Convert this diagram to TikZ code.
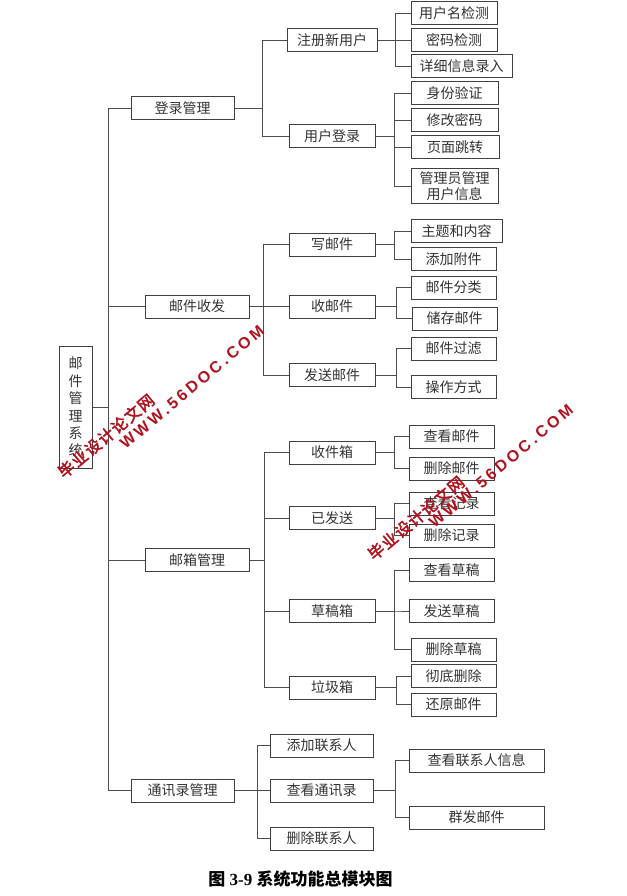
\documentclass[tikz,border=0pt]{standalone}
\usepackage{fontspec}
\setmainfont{Liberation Serif}
\newfontfamily\cjk{Noto Sans CJK SC}
\newfontfamily\wmlat{Liberation Sans Bold}[LetterSpace=20]
\newfontfamily\wmcjk{Noto Sans CJK SC}[LetterSpace=8, FakeBold=2.5]
\definecolor{wm}{RGB}{175,18,28}
\begin{document}
\begin{tikzpicture}[x=1pt,y=-1pt,
  bx/.style={draw=black!75, line width=1pt, fill=white, inner sep=0pt,
    minimum height=23pt, minimum width=86pt, align=center,
    font={\cjk\fontsize{14}{16.5}\selectfont}, text=black!80},
  ln/.style={draw=black!70, line width=0.9pt},
  wmk/.style={text=wm, rotate=40, inner sep=0pt}]
\fill[white] (0,0) rectangle (626,896);
\useasboundingbox (0,0) rectangle (626,896);
% root
\node[bx, minimum width=33pt, minimum height=122pt, font={\cjk\fontsize{14}{17.4}\selectfont}] (root) at (75.5,407) {邮\\件\\管\\理\\系\\统};
% level 1
\node[bx, minimum width=103pt] (dl) at (182.5,108) {登录管理};
\node[bx, minimum width=104pt] (yj) at (197,306.5) {邮件收发};
\node[bx, minimum width=104pt] (yx) at (197,560) {邮箱管理};
\node[bx, minimum width=103pt] (tx) at (182.5,790.5) {通讯录管理};
% level 2
\node[bx, minimum width=90pt] (zc) at (332,40.5) {注册新用户};
\node[bx] (dlu) at (332,136.5) {用户登录};
\node[bx] (xyj) at (332,244.5) {写邮件};
\node[bx] (syj) at (332,306.5) {收邮件};
\node[bx] (fsyj) at (332,375) {发送邮件};
\node[bx] (sjx) at (332,452.5) {收件箱};
\node[bx] (yfs) at (332,518) {已发送};
\node[bx] (cgx) at (332,611) {草稿箱};
\node[bx] (ljx) at (332,687.5) {垃圾箱};
\node[bx, minimum width=103pt] (tjlxr) at (321.5,745.5) {添加联系人};
\node[bx, minimum width=103pt] (ckt) at (321.5,790.5) {查看通讯录};
\node[bx, minimum width=103pt] (sclxr) at (321.5,838.5) {删除联系人};
% level 3
\node[bx] (a1) at (454,13) {用户名检测};
\node[bx] (a2) at (454,40.5) {密码检测};
\node[bx, minimum width=101pt] (a3) at (461.5,66.5) {详细信息录入};
\node[bx, minimum width=87pt] (b1) at (454.5,93.5) {身份验证};
\node[bx, minimum width=87pt] (b2) at (454.5,120.5) {修改密码};
\node[bx, minimum width=88pt] (b3) at (455,147.5) {页面跳转};
\node[bx, minimum width=87pt, minimum height=34pt] (b4) at (454.5,186) {管理员管理\\用户信息};
\node[bx, minimum width=91pt] (c1) at (456.5,231) {主题和内容};
\node[bx, minimum width=85pt] (c2) at (453.5,259) {添加附件};
\node[bx, minimum width=85pt] (d1) at (453.5,287.5) {邮件分类};
\node[bx, minimum width=85pt] (d2) at (454.5,318.5) {储存邮件};
\node[bx, minimum width=85pt] (e1) at (453.5,348.5) {邮件过滤};
\node[bx, minimum width=85pt] (e2) at (453.5,387) {操作方式};
\node[bx, minimum width=85pt] (f1) at (451.5,436.5) {查看邮件};
\node[bx, minimum width=85pt] (f2) at (451.5,468.5) {删除邮件};
\node[bx, minimum width=85pt] (g1) at (451.5,503.5) {查看记录};
\node[bx, minimum width=85pt] (g2) at (451.5,535.5) {删除记录};
\node[bx, minimum width=85pt] (h1) at (451.5,570) {查看草稿};
\node[bx, minimum width=85pt] (h2) at (451.5,611) {发送草稿};
\node[bx, minimum width=85pt] (h3) at (453.5,649.5) {删除草稿};
\node[bx, minimum width=85pt] (i1) at (453.5,676) {彻底删除};
\node[bx, minimum width=85pt] (i2) at (453.5,704.5) {还原邮件};
\node[bx, minimum width=135pt] (j1) at (476.5,760.5) {查看联系人信息};
\node[bx, minimum width=135pt] (j2) at (476.5,817.5) {群发邮件};
% connectors
\foreach \c in {dl,yj,yx,tx} \draw[ln] (root.east) -- ++(16,0) |- (\c.west);
\foreach \c in {zc,dlu} \draw[ln] (dl.east) -- ++(28,0) |- (\c.west);
\foreach \c in {xyj,syj,fsyj} \draw[ln] (yj.east) -- ++(13.5,0) |- (\c.west);
\foreach \c in {sjx,yfs,cgx,ljx} \draw[ln] (yx.east) -- ++(14.5,0) |- (\c.west);
\foreach \c in {tjlxr,ckt,sclxr} \draw[ln] (tx.east) -- ++(22.5,0) |- (\c.west);
\foreach \c in {a1,a2,a3} \draw[ln] (zc.east) -- ++(17.7,0) |- (\c.west);
\foreach \c in {b1,b2,b3,b4} \draw[ln] (dlu.east) -- ++(19,0) |- (\c.west);
\foreach \c in {c1,c2} \draw[ln] (xyj.east) -- ++(19,0) |- (\c.west);
\foreach \c in {d1,d2} \draw[ln] (syj.east) -- ++(21.3,0) |- (\c.west);
\foreach \c in {e1,e2} \draw[ln] (fsyj.east) -- ++(21.3,0) |- (\c.west);
\foreach \c in {f1,f2} \draw[ln] (sjx.east) -- ++(19,0) |- (\c.west);
\foreach \c in {g1,g2} \draw[ln] (yfs.east) -- ++(19,0) |- (\c.west);
\foreach \c in {h1,h2,h3} \draw[ln] (cgx.east) -- ++(19,0) |- (\c.west);
\foreach \c in {i1,i2} \draw[ln] (ljx.east) -- ++(21.3,0) |- (\c.west);
\foreach \c in {j1,j2} \draw[ln] (ckt.east) -- ++(22,0) |- (\c.west);
% caption
\node[inner sep=0pt, font=\fontsize{17}{20}\selectfont\bfseries] (cap) at (300.5,879)
  {{\cjk 图} 3-9 {\cjk 系统功能总模块图}};
% watermarks
\node[wmk, font={\wmcjk\fontsize{16}{18}\selectfont}] (w1a) at (106,436) {毕业设计论文网};
\node[wmk, font={\wmlat\fontsize{16}{18}\selectfont}] (w1b) at (192,387) {WWW.56DOC.COM};
\node[wmk, font={\wmcjk\fontsize{16}{18}\selectfont}] (w2a) at (416,518) {毕业设计论文网};
\node[wmk, font={\wmlat\fontsize{16}{18}\selectfont}] (w2b) at (501,466) {WWW.56DOC.COM};
\end{tikzpicture}
\end{document}
